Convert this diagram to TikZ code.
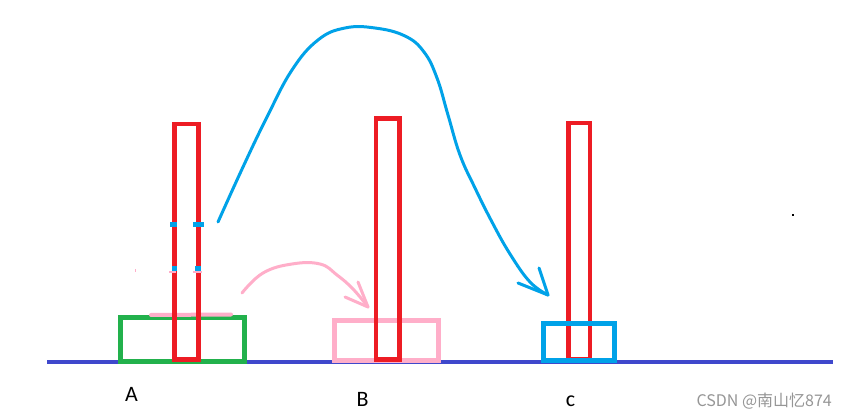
\documentclass[tikz,border=0pt]{standalone}
\usepackage{fontspec}
\setmainfont{Carlito}
\newfontfamily\cjk{Noto Sans CJK SC}
\definecolor{pegred}{RGB}{237,28,36}
\definecolor{baseblue}{RGB}{63,72,204}
\definecolor{pgreen}{RGB}{34,177,76}
\definecolor{ppink}{RGB}{255,174,201}
\definecolor{pcyan}{RGB}{0,162,232}
\definecolor{wmgray}{RGB}{150,150,150}
\begin{document}
\begin{tikzpicture}[x=1pt,y=-1pt,
  peg/.style={draw=pegred,line width=4.6pt},
  disk/.style={line width=5pt},
  stroke/.style={line width=3pt,line cap=round,line join=round},
  lbl/.style={font=\fontsize{22}{26}\selectfont,anchor=base,inner sep=0pt}]
\useasboundingbox[fill=white] (0,0) rectangle (848,419);
% ground line
\draw[baseblue,line width=4.5pt] (47,362) -- (833,362);
% disks under the pegs
\draw[pgreen,disk] (120.5,317.5) rectangle (244.5,361.5);
\draw[ppink,line width=4pt,line cap=round] (151,315) -- (231,314.5);
\draw[ppink,disk] (334,320.5) rectangle (438.5,360);
% pegs
\draw[peg] (174.5,124) rectangle (198.5,359.5);
\draw[peg] (375.8,118.5) rectangle (399.2,359.5);
\draw[peg] (568.3,123) rectangle (590,359.5);
% disk C over its peg
\draw[pcyan,disk] (543,324) rectangle (614,360.5);
% marks on peg A
\draw[pcyan,line width=4.5pt] (170,224.5) -- (176.5,224.5) (193,224.5) -- (204,224.5)
  (172,268.5) -- (177,268.5) (195,268.5) -- (201,268.5);
\draw[ppink,line width=2pt] (169,272) -- (176,272) (193,272) -- (202,272);
\fill[ppink] (134.5,269) rectangle (136,272);
% big move arrow
\coordinate (bs) at (218,222);
\coordinate (bt) at (548,295);
\draw[pcyan,stroke] plot[smooth,tension=0.7] coordinates {(bs) (243,167) (267,117) (292,70) (318,40) (345,28) (375,28) (405,36) (424,52) (437,78) (448,115) (460,155) (475,188) (492,222) (510,254) (530,282) (bt)};
\draw[pcyan,stroke] (bt) -- ++(-9,-27) (bt) -- ++(-30,-12);
% small move arrow
\coordinate (ps) at (242,293);
\coordinate (pt) at (368,307);
\draw[ppink,stroke] plot[smooth,tension=0.7] coordinates {(ps) (263,273) (292,264) (320,264) (337,275) (353,289) (pt)};
\draw[ppink,stroke] (pt) -- ++(-10,-25) (pt) -- ++(-23,-10);
% stray dot
\fill[black] (792,214.5) rectangle (794,216.5);
% labels
\node[lbl] (labA) at (131.5,401.5) {A};
\node[lbl] (labB) at (362.5,406.5) {B};
\node[lbl] (labC) at (570.5,406.5) {c};
\node[anchor=base east,inner sep=0pt,text=wmgray,font=\cjk\fontsize{16}{18}\selectfont] (wm) at (832,406.5) {CSDN @南山忆874};
\end{tikzpicture}
\end{document}
